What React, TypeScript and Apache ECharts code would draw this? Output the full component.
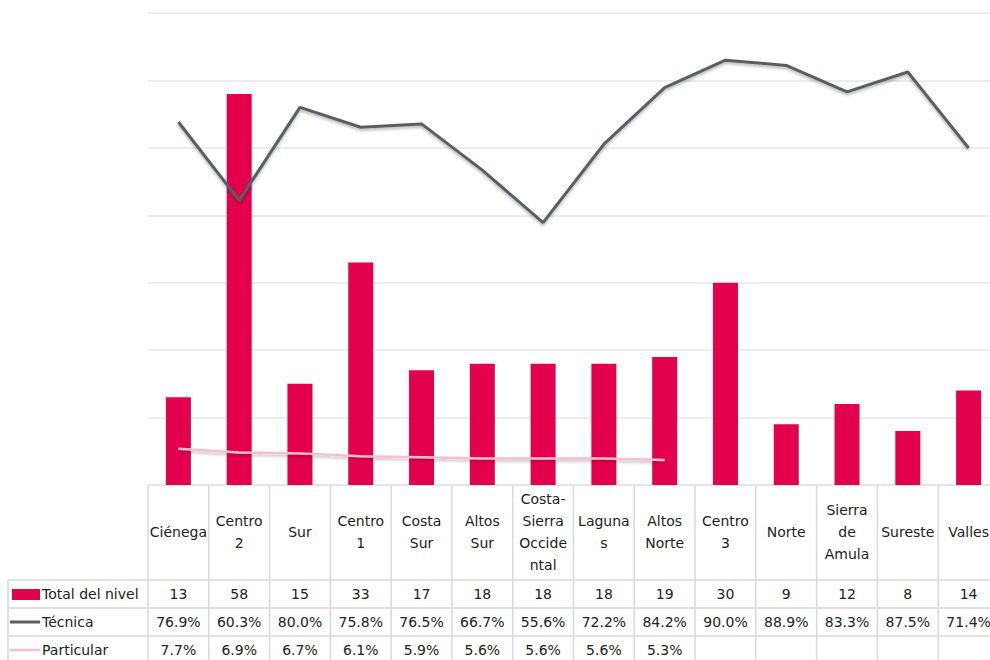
import React, { useEffect, useRef } from "react";
import * as echarts from "echarts";

const categories = ["Ciénega", "Centro 2", "Sur", "Centro 1", "Costa Sur", "Altos Sur", "Costa-Sierra Occidental", "Lagunas", "Altos Norte", "Centro 3", "Norte", "Sierra de Amula", "Sureste", "Valles"];
const headerLabels = ["Ciénega", "Centro\n2", "Sur", "Centro\n1", "Costa\nSur", "Altos\nSur", "Costa-\nSierra\nOccide\nntal", "Laguna\ns", "Altos\nNorte", "Centro\n3", "Norte", "Sierra\nde\nAmula", "Sureste", "Valles"];
const totalNivel = [13, 58, 15, 33, 17, 18, 18, 18, 19, 30, 9, 12, 8, 14];
const tecnica = [76.9, 60.3, 80.0, 75.8, 76.5, 66.7, 55.6, 72.2, 84.2, 90.0, 88.9, 83.3, 87.5, 71.4];
const particular: (number | null)[] = [7.7, 6.9, 6.7, 6.1, 5.9, 5.6, 5.6, 5.6, 5.3, null, null, null, null, null];
const seriesNames = ["Total del nivel", "Técnica", "Particular"];

const BAR = "#e3004c";
const TEC = "#595f64";
const PAR = "#f6bfd0";
const FONT = "DejaVu Sans";
const CW = 1000;

export default function App() {
  const ref = useRef<HTMLDivElement>(null);
  useEffect(() => {
    if (!ref.current) return;
    const chart = echarts.init(ref.current, null, { renderer: "svg" });
    const L = 148, R = 999, T = 13, B = 485;
    const n = categories.length;
    const cw = (R - L) / n;
    const rows = [580, 608, 636, 664];
    const lineColor = "#d9d9d9";
    const g: any[] = [];
    g.push({ type: "line", shape: { x1: L, y1: B, x2: R, y2: B }, style: { stroke: lineColor, lineWidth: 1.5 } });
    rows.forEach((y) => g.push({ type: "line", shape: { x1: 8, y1: y, x2: R, y2: y }, style: { stroke: lineColor, lineWidth: 1.5 } }));
    g.push({ type: "line", shape: { x1: 8, y1: rows[0], x2: 8, y2: 664 }, style: { stroke: lineColor, lineWidth: 1.5 } });
    for (let i = 0; i <= n; i++) {
      const x = L + i * cw;
      g.push({ type: "line", shape: { x1: x, y1: B, x2: x, y2: 664 }, style: { stroke: lineColor, lineWidth: 1.5 } });
    }
    const txt = (s: string, x: number, y: number, align = "center", lh = 22) => ({
      type: "text", x, y,
      style: { text: s, x: 0, y: 0, align, verticalAlign: "middle", fill: "#222", font: `14px "${FONT}"`, lineHeight: lh },
    });
    headerLabels.forEach((s, i) => g.push(txt(s, L + (i + 0.5) * cw, 532)));
    const rowMid = [594, 622, 650];
    totalNivel.forEach((v, i) => g.push(txt(String(v), L + (i + 0.5) * cw, rowMid[0])));
    tecnica.forEach((v, i) => g.push(txt(v.toFixed(1) + "%", L + (i + 0.5) * cw, rowMid[1])));
    particular.forEach((v, i) => { if (v != null) g.push(txt(v.toFixed(1) + "%", L + (i + 0.5) * cw, rowMid[2])); });
    g.push({ type: "rect", shape: { x: 12, y: 589, width: 28, height: 11 }, style: { fill: BAR } });
    g.push({ type: "line", shape: { x1: 10, y1: 622, x2: 40, y2: 622 }, style: { stroke: TEC, lineWidth: 3 } });
    g.push({ type: "line", shape: { x1: 10, y1: 650, x2: 40, y2: 650 }, style: { stroke: PAR, lineWidth: 2.5 } });
    seriesNames.forEach((s, i) => g.push(txt(s, 42, rowMid[i], "left")));

    chart.setOption({
      animation: false,
      backgroundColor: "#ffffff",
      grid: { left: L, right: CW - R, top: T, bottom: 660 - B },
      xAxis: { type: "category", data: categories, axisLine: { show: false }, axisTick: { show: false }, axisLabel: { show: false } },
      yAxis: [
        { type: "value", min: 0, max: 70, interval: 10, axisLabel: { show: false }, axisLine: { show: false }, axisTick: { show: false }, splitLine: { lineStyle: { color: "#e6e6e6", width: 1.5 } } },
        { type: "value", min: 0, max: 100, interval: 10, axisLabel: { show: false }, axisLine: { show: false }, axisTick: { show: false }, splitLine: { show: false } },
      ],
      series: [
        { name: seriesNames[0], type: "bar", yAxisIndex: 0, data: totalNivel, barWidth: 25, itemStyle: { color: BAR } },
        { name: seriesNames[1], type: "line", yAxisIndex: 1, data: tecnica, symbol: "none", lineStyle: { color: TEC, width: 3, shadowColor: "rgba(0,0,0,0.3)", shadowBlur: 3, shadowOffsetY: 2 } },
        { name: seriesNames[2], type: "line", yAxisIndex: 1, data: particular, symbol: "none", lineStyle: { color: PAR, width: 2.5, shadowColor: "rgba(0,0,0,0.25)", shadowBlur: 3, shadowOffsetY: 2 } },
      ],
      graphic: g,
    });
    return () => chart.dispose();
  }, []);
  return (
    <div style={{ position: "absolute", left: 0, top: 0, width: 990, height: 660, overflow: "hidden" }}>
      <div ref={ref} style={{ width: CW, height: 660 }} />
    </div>
  );
}
